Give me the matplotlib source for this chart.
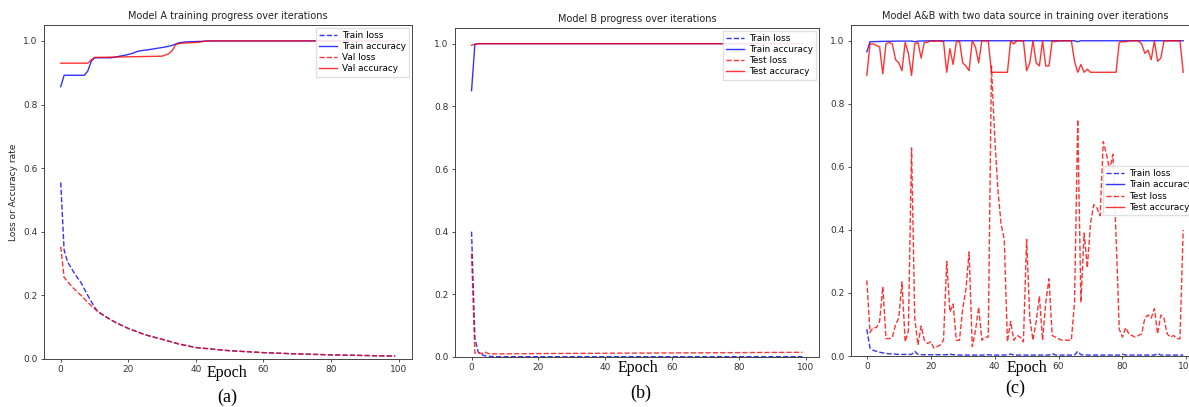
import matplotlib
matplotlib.use('Agg')
import matplotlib.pyplot as plt

W, H = 1189, 407

# ---- Model A (sparse epochs) ----
a_loss_ep = [0, 1, 2, 4, 6, 8, 10, 11, 13, 16, 20, 25, 30, 35, 40, 50, 60, 70, 80, 90, 99]
a_train_loss = [0.555, 0.343, 0.306, 0.27, 0.24, 0.2, 0.163, 0.149, 0.135, 0.116, 0.096, 0.076, 0.062,
                0.047, 0.036, 0.026, 0.02, 0.016, 0.013, 0.011, 0.009]
a_val_loss = [0.353, 0.257, 0.243, 0.22, 0.2, 0.178, 0.158, 0.149, 0.135, 0.116, 0.096, 0.076, 0.062,
              0.047, 0.036, 0.026, 0.02, 0.016, 0.013, 0.011, 0.009]
a_tacc_ep = [0, 1, 7, 8, 9, 10, 15, 19, 21, 23, 27, 31, 33, 34, 35, 37, 40, 45, 99]
a_train_acc = [0.856, 0.892, 0.892, 0.905, 0.935, 0.947, 0.947, 0.955, 0.96, 0.968, 0.974, 0.981, 0.986,
               0.99, 0.994, 0.997, 0.998, 1.0, 1.0]
a_vacc_ep = [0, 8, 9, 10, 30, 32, 33, 34, 35, 41, 43, 99]
a_val_acc = [0.93, 0.93, 0.94, 0.948, 0.952, 0.96, 0.97, 0.988, 0.992, 0.996, 1.0, 1.0]

# ---- Model B ----
b_ep = [0, 1, 2, 3, 4, 5, 6, 8, 10, 20, 40, 60, 80, 99]
b_train_loss = [0.40, 0.06, 0.015, 0.008, 0.004, 0.002, 0.0015, 0.001, 0.001, 0.001, 0.001, 0.001, 0.001, 0.001]
b_test_loss = [0.33, 0.012, 0.014, 0.011, 0.016, 0.011, 0.01, 0.01, 0.01, 0.011, 0.012, 0.013, 0.014, 0.015]
b_train_acc = [0.85, 0.998, 1.0, 1.0, 1.0, 1.0, 1.0, 1.0, 1.0, 1.0, 1.0, 1.0, 1.0, 1.0]
b_test_acc = [0.995, 0.998, 1.0, 1.0, 1.0, 1.0, 1.0, 1.0, 1.0, 1.0, 1.0, 1.0, 1.0, 1.0]

# ---- Model A&B (every epoch) ----
c_ep = list(range(100))
c_test_loss = [
    0.24, 0.075, 0.09, 0.09, 0.11, 0.22, 0.055, 0.055, 0.06, 0.10,
    0.12, 0.235, 0.045, 0.08, 0.66, 0.12, 0.035, 0.095, 0.05, 0.04,
    0.045, 0.025, 0.03, 0.035, 0.05, 0.30, 0.14, 0.165, 0.05, 0.05,
    0.15, 0.21, 0.33, 0.03, 0.08, 0.155, 0.05, 0.06, 0.06, 0.92,
    0.70, 0.53, 0.42, 0.37, 0.045, 0.11, 0.05, 0.065, 0.06, 0.045,
    0.37, 0.12, 0.05, 0.11, 0.19, 0.05, 0.17, 0.245, 0.065, 0.06,
    0.055, 0.05, 0.05, 0.05, 0.05, 0.17, 0.75, 0.17, 0.39, 0.28,
    0.42, 0.48, 0.47, 0.445, 0.68, 0.64, 0.59, 0.64, 0.38, 0.085,
    0.06, 0.09, 0.07, 0.065, 0.06, 0.065, 0.07, 0.12, 0.13, 0.12,
    0.15, 0.07, 0.13, 0.12, 0.07, 0.06, 0.065, 0.055, 0.055, 0.40]
c_test_acc = [
    0.89, 0.99, 0.99, 0.985, 0.98, 0.895, 0.99, 0.995, 0.99, 0.94,
    0.93, 0.905, 0.995, 0.96, 0.89, 0.99, 0.995, 0.945, 0.995, 0.995,
    1.0, 0.998, 1.0, 0.998, 0.998, 0.90, 0.975, 0.925, 0.995, 1.0,
    0.93, 0.92, 0.905, 1.0, 0.98, 0.93, 1.0, 1.0, 1.0, 0.90,
    0.90, 0.90, 0.90, 0.90, 0.90, 1.0, 0.99, 1.0, 1.0, 1.0,
    0.905, 0.93, 1.0, 0.93, 0.92, 1.0, 0.92, 0.92, 1.0, 0.997,
    1.0, 1.0, 1.0, 1.0, 1.0, 0.935, 0.90, 0.925, 0.90, 0.91,
    0.90, 0.90, 0.90, 0.90, 0.90, 0.90, 0.90, 0.90, 0.90, 0.995,
    0.997, 0.997, 1.0, 1.0, 1.0, 1.0, 0.99, 0.96, 0.97, 0.94,
    1.0, 0.935, 0.945, 1.0, 1.0, 1.0, 1.0, 1.0, 1.0, 0.90]
c_train_loss = [
    0.085, 0.025, 0.018, 0.015, 0.012, 0.01, 0.008, 0.007, 0.006, 0.006,
    0.005, 0.005, 0.005, 0.005, 0.005, 0.015, 0.005, 0.004, 0.004, 0.004,
    0.004, 0.004, 0.004, 0.004, 0.004, 0.004, 0.006, 0.004, 0.003, 0.003,
    0.003, 0.003, 0.003, 0.003, 0.003, 0.003, 0.003, 0.003, 0.004, 0.003,
    0.003, 0.003, 0.003, 0.003, 0.004, 0.006, 0.003, 0.003, 0.003, 0.003,
    0.003, 0.003, 0.003, 0.003, 0.003, 0.003, 0.003, 0.003, 0.008, 0.003,
    0.003, 0.003, 0.003, 0.003, 0.003, 0.003, 0.015, 0.004, 0.003, 0.003,
    0.003, 0.003, 0.003, 0.003, 0.003, 0.003, 0.003, 0.003, 0.003, 0.003,
    0.006, 0.003, 0.003, 0.003, 0.003, 0.003, 0.003, 0.003, 0.003, 0.003,
    0.003, 0.008, 0.003, 0.003, 0.003, 0.003, 0.003, 0.003, 0.003, 0.003]
c_acc_ep = [0, 1, 5, 10, 14, 15, 16, 20, 40, 65, 66, 67, 80, 99]
c_train_acc = [0.965, 0.997, 0.998, 0.999, 0.999, 0.997, 0.999, 1.0, 1.0, 1.0, 0.997, 1.0, 1.0, 1.0]

plt.rcParams['font.family'] = 'DejaVu Sans'
fig = plt.figure(figsize=(W / 100, H / 100), dpi=100)


def add_ax(left, top, right, bottom):
    return fig.add_axes([left / W, 1 - bottom / H, (right - left) / W, (bottom - top) / H])


def style(ax, title, names, loc):
    ax.set_xlim(-4.95, 103.95)
    ax.set_ylim(0, 1.05)
    ax.set_xticks([0, 20, 40, 60, 80, 100])
    ax.set_yticks([0.0, 0.2, 0.4, 0.6, 0.8, 1.0])
    ax.tick_params(labelsize=6.5, length=2.5, width=0.6, pad=2, colors='#333333')
    for s in ax.spines.values():
        s.set_linewidth(0.7)
        s.set_color('#444444')
    ax.set_title(title, fontsize=7, pad=4, color='#222222')
    ax.legend(names, loc=loc, fontsize=6.4, handlelength=2.0, handletextpad=0.6, labelspacing=0.25,
              borderpad=0.35, borderaxespad=0.3, framealpha=0.9, edgecolor='#dddddd', fancybox=False)


lw = 1.0
# (a)
ax = add_ax(44, 25, 412, 359)
ax.plot(a_loss_ep, a_train_loss, 'b--', lw=lw, alpha=0.8)
ax.plot(a_tacc_ep, a_train_acc, 'b-', lw=lw, alpha=0.8)
ax.plot(a_loss_ep, a_val_loss, 'r--', lw=lw, alpha=0.8)
ax.plot(a_vacc_ep, a_val_acc, 'r-', lw=lw, alpha=0.8)
style(ax, 'Model A training progress over iterations',
      ['Train loss', 'Train accuracy', 'Val loss', 'Val accuracy'], 'upper right')
ax.set_ylabel('Loss or Accuracy rate', fontsize=6.5, labelpad=4, color='#222222')

# (b)
ax = add_ax(455, 28, 819, 357)
ax.plot(b_ep, b_train_loss, 'b--', lw=lw, alpha=0.8)
ax.plot(b_ep, b_train_acc, 'b-', lw=lw, alpha=0.8)
ax.plot(b_ep, b_test_loss, 'r--', lw=lw, alpha=0.8)
ax.plot(b_ep, b_test_acc, 'r-', lw=lw, alpha=0.8)
style(ax, 'Model B progress over iterations',
      ['Train loss', 'Train accuracy', 'Test loss', 'Test accuracy'], 'upper right')

# (c) - the right part of this panel is cut off in the original
ax = add_ax(851, 25, 1199, 356)
ax.plot(c_ep, c_train_loss, 'b--', lw=lw, alpha=0.8)
ax.plot(c_acc_ep, c_train_acc, 'b-', lw=lw, alpha=0.8)
ax.plot(c_ep, c_test_loss, 'r--', lw=lw, alpha=0.8)
ax.plot(c_ep, c_test_acc, 'r-', lw=lw, alpha=0.8)
style(ax, 'Model A&B with two data source in training over iterations',
      ['Train loss', 'Train accuracy', 'Test loss', 'Test accuracy'], 'center right')

# serif captions pasted under each panel
serif = ['Liberation Serif', 'DejaVu Serif']
box = dict(facecolor='white', edgecolor='none', pad=1)
for x, y, ycap, x2, cap in [(227, 373, 397, 227, '(a)'), (638, 368, 393, 641, '(b)'),
                            (1027, 368, 388, 1015, '(c)')]:
    fig.text(x / W, 1 - y / H, 'Epoch', fontsize=11.5, family=serif, ha='center', va='center',
             bbox=box, zorder=10)
    fig.text(x2 / W, 1 - ycap / H, cap, fontsize=13, family=serif, ha='center', va='center')

fig.savefig('out.png', dpi=100)
